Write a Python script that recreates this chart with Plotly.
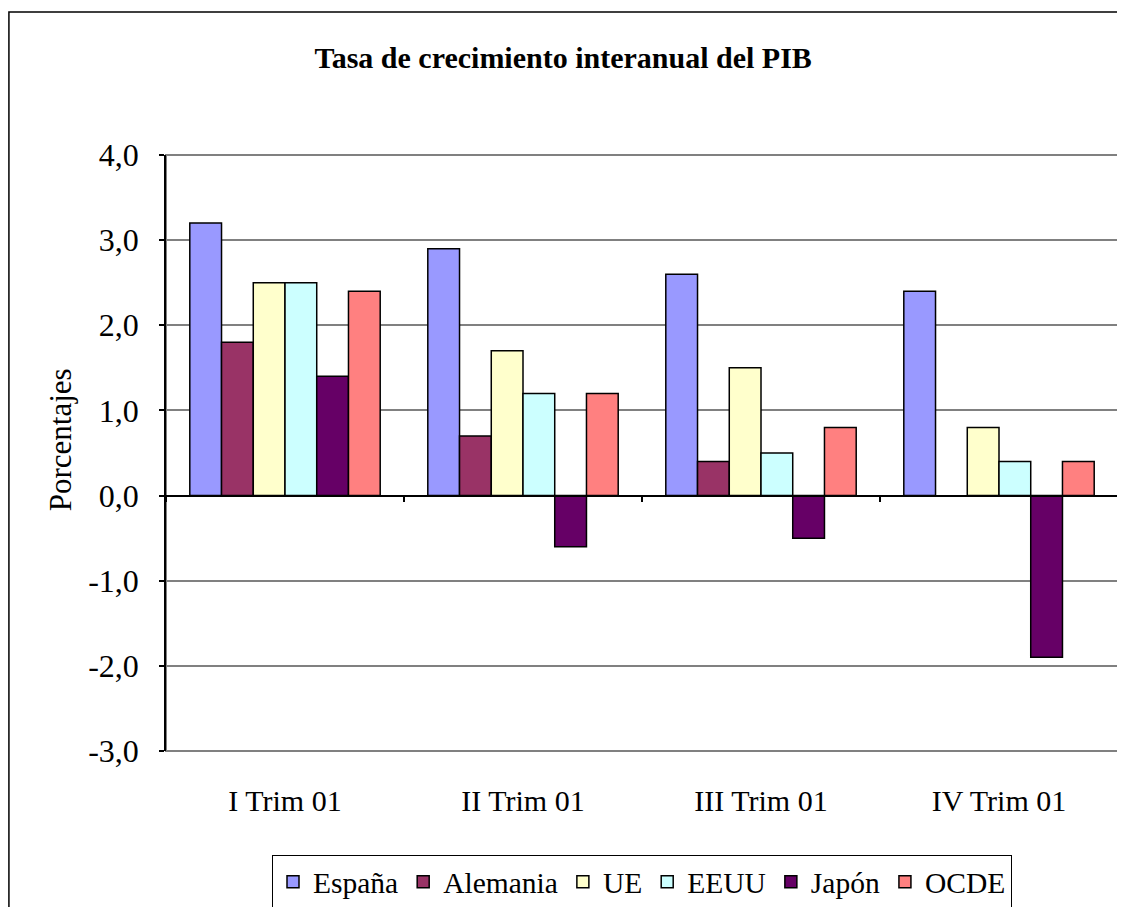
import plotly.graph_objects as go

trimestres = ['I Trim 01', 'II Trim 01', 'III Trim 01', 'IV Trim 01']
espana = [3.2, 2.9, 2.6, 2.4]
alemania = [1.8, 0.7, 0.4, None]
ue = [2.5, 1.7, 1.5, 0.8]
eeuu = [2.5, 1.2, 0.5, 0.4]
japon = [1.4, -0.6, -0.5, -1.9]
ocde = [2.4, 1.2, 0.8, 0.4]

y_ticks = [-3, -2, -1, 0, 1, 2, 3, 4]
y_labels = ['-3,0', '-2,0', '-1,0', '0,0', '1,0', '2,0', '3,0', '4,0']

series = [
    ('España', espana, '#9999FF'),
    ('Alemania', alemania, '#993366'),
    ('UE', ue, '#FFFFCC'),
    ('EEUU', eeuu, '#CCFFFF'),
    ('Japón', japon, '#660066'),
    ('OCDE', ocde, '#FF8080'),
]

FONT = 'Liberation Serif, Times New Roman, serif'

fig = go.Figure()
for name, vals, color in series:
    fig.add_trace(go.Bar(
        x=trimestres, y=vals, name=name,
        marker=dict(color=color, line=dict(color='black', width=1.5)),
    ))

# zero line with category-boundary ticks
fig.add_trace(go.Scatter(x=[None], y=[None], xaxis='x2', showlegend=False))

# page body has an 8px margin; figure runs a bit past the window bottom so the
# legend does not push the plot margins (the original chart is cropped there too)
fig.update_layout(
    width=1117, height=919,
    margin=dict(l=158, r=7, t=147, b=176),
    paper_bgcolor='white', plot_bgcolor='white',
    barmode='group', bargap=0.2, bargroupgap=0,
    font=dict(family=FONT, color='black'),
    title=dict(text='<b>Tasa de crecimiento interanual del PIB</b>',
               font=dict(size=30, family=FONT), x=0.497, xanchor='center',
               y=1 - 49 / 919, yanchor='middle'),
    xaxis=dict(range=[-0.5, 3.5], showgrid=False, showline=False, automargin=False,
               ticks='outside', ticklen=0, tickfont=dict(size=30, family=FONT),
               ticklabelstandoff=23),
    xaxis2=dict(overlaying='x', range=[-0.5, 3.5], anchor='free',
                position=3 / 7, showline=True, linecolor='black', linewidth=1.5,
                tickmode='array', tickvals=[-0.5, 0.5, 1.5, 2.5, 3.5],
                ticks='outside', ticklen=6, tickcolor='black', tickwidth=1.5,
                showticklabels=False, showgrid=False, zeroline=False),
    yaxis=dict(range=[-3, 4], tickmode='array', tickvals=y_ticks, ticktext=y_labels,
               showgrid=True, gridcolor='#808080', gridwidth=1.5, automargin=False,
               zeroline=False, showline=True, linecolor='black', linewidth=1.5,
               ticks='outside', ticklen=5, tickcolor='black', tickwidth=1.5,
               ticklabelstandoff=14, tickfont=dict(size=32, family=FONT)),
    legend=dict(orientation='h', x=0.5, xanchor='center', y=-0.1745, yanchor='top',
                font=dict(size=29.5, family=FONT), bordercolor='black', borderwidth=1,
                traceorder='normal', itemwidth=30, tracegroupgap=0),
)

fig.add_annotation(text='Porcentajes', xref='paper', yref='paper',
                   x=-0.1113, y=3.65 / 7, xanchor='center', yanchor='middle',
                   textangle=-90, showarrow=False, font=dict(size=31, family=FONT))

# plot area border (gray) and outer chart frame
fig.add_shape(type='rect', xref='paper', yref='paper', x0=0, y0=0, x1=1, y1=1,
              line=dict(color='#808080', width=2), layer='below')
fig.add_shape(type='rect', xref='paper', yref='paper', x0=-0.165, y0=-0.4,
              x1=1.1, y1=1.24, line=dict(color='black', width=1.5))

fig.write_html('out.html')
